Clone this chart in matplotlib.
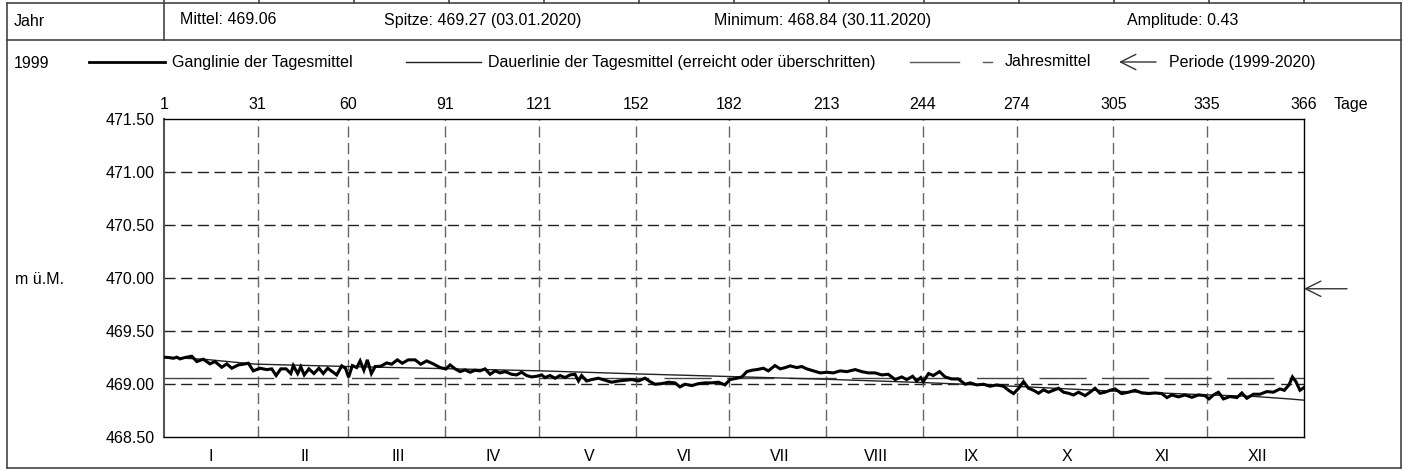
import matplotlib
matplotlib.use("Agg")
import matplotlib.pyplot as plt
from matplotlib.lines import Line2D

plt.rcParams['font.family'] = ['Liberation Sans', 'DejaVu Sans']
plt.rcParams['lines.scale_dashes'] = False

# ---------------- data ----------------
gang_days = [1, 2.4, 4.0, 5.1, 6.1, 7.7, 9.9, 11.5, 13.6, 15.7, 17.3, 19.5, 21.1, 22.7, 24.8, 26.4, 28.0,
             29.6, 31.7, 33.9, 35.5, 36.9, 38.4, 40.1, 41.6, 42.4, 43.8, 44.8, 45.9, 47.4, 49.0, 50.6,
             52.0, 53.4, 54.9, 56.3, 57.9, 59.1, 60.1, 61.3, 62.7, 63.8, 65.0, 66.1, 67.4, 68.6, 70.4,
             72.3, 73.9, 75.7, 77.3, 79.2, 81.4, 83.2, 85.1, 87.2, 89.4, 91.3,
             92.6, 94.2, 95.8, 97.4, 99.0, 100.6, 102.2, 103.8, 105.4, 107.0, 108.6, 110.2, 112.3, 113.9,
             115.5, 117.1, 118.7, 120.3, 121.9, 123.0, 124.6, 126.2, 127.8, 129.4, 131.0, 132.6, 133.7,
             134.7, 136.3, 137.9, 140.1, 142.2, 144.3, 146.5, 148.6, 150.7, 152.9, 155.0, 156.6, 158.2,
             160.4, 162.5, 164.6, 166.2, 167.8, 170.0, 172.1, 174.2, 176.4, 178.5, 180.6, 182.2,
             184.4, 186.0, 187.6, 189.2, 190.8, 192.9, 194.5, 196.6, 198.3, 199.9, 201.5, 203.6, 205.2,
             206.8, 208.9, 211.1, 213.2, 215.3, 217.5, 219.6, 222.3, 224.4, 226.5, 228.7, 230.8, 232.9,
             235.1, 237.2, 238.8, 240.7, 242.0, 243.3, 244.1, 245.8, 247.3, 249.3, 251.1, 253.2, 255.3,
             257.5, 259.1, 261.2, 263.4, 265.5, 267.6, 269.8, 271.4, 273.0, 274.6,
             276.2, 277.8, 279.4, 281.0, 282.6, 284.2, 285.8, 287.4, 289.0, 290.6, 292.2, 293.8, 295.9,
             297.5, 299.1, 300.7, 302.3, 303.9, 305.5, 307.6, 309.8, 311.9, 314.1, 316.2, 318.3, 320.5,
             322.1, 323.7, 325.8, 327.9, 330.1, 332.2, 334.3, 335.6, 337.0, 338.6, 340.2, 342.3, 344.5,
             346.1, 347.7, 349.8, 351.9, 354.1, 356.2, 358.3, 359.7, 361.2, 362.3, 363.4, 364.7, 366]
gang_vals = [469.255, 469.252, 469.245, 469.255, 469.239, 469.252, 469.264, 469.214, 469.236, 469.192,
             469.214, 469.160, 469.192, 469.151, 469.182, 469.189, 469.198, 469.126, 469.151, 469.138,
             469.145, 469.082, 469.145, 469.145, 469.101, 469.176, 469.101, 469.164, 469.088, 469.145,
             469.101, 469.151, 469.101, 469.151, 469.119, 469.088, 469.173, 469.151, 469.066, 469.176,
             469.157, 469.220, 469.132, 469.230, 469.101, 469.167, 469.170, 469.201, 469.189, 469.230,
             469.198, 469.230, 469.230, 469.189, 469.220, 469.192, 469.157, 469.145,
             469.182, 469.145, 469.119, 469.135, 469.113, 469.132, 469.126, 469.145, 469.094, 469.126,
             469.107, 469.119, 469.094, 469.088, 469.113, 469.082, 469.069, 469.075, 469.088, 469.063,
             469.082, 469.057, 469.082, 469.063, 469.088, 469.094, 469.031, 469.082, 469.031, 469.044,
             469.057, 469.038, 469.019, 469.031, 469.038, 469.044, 469.031, 469.057, 469.025, 469.000,
             469.006, 469.019, 469.013, 468.975, 469.000, 468.987, 469.006, 469.013, 469.013, 469.019,
             468.994, 469.044,
             469.057, 469.069, 469.119, 469.132, 469.138, 469.151, 469.126, 469.176, 469.145, 469.157,
             469.173, 469.157, 469.167, 469.145, 469.126, 469.107, 469.113, 469.107, 469.126, 469.119,
             469.138, 469.119, 469.107, 469.107, 469.088, 469.094, 469.044, 469.069, 469.044, 469.075,
             469.031, 469.063, 469.025, 469.101, 469.082, 469.119, 469.069, 469.050, 469.050, 469.000,
             469.013, 468.994, 469.000, 468.981, 468.994, 468.981, 468.943, 468.912, 468.960,
             469.025, 468.962, 468.943, 468.915, 468.947, 468.925, 468.943, 468.962, 468.925, 468.915,
             468.899, 468.925, 468.893, 468.925, 468.962, 468.915, 468.925, 468.943, 468.956, 468.912,
             468.925, 468.943, 468.918, 468.912, 468.918, 468.912, 468.874, 468.899, 468.881, 468.899,
             468.877, 468.899, 468.893, 468.862, 468.899, 468.925, 468.862, 468.884, 468.874, 468.918,
             468.868, 468.906, 468.906, 468.931, 468.925, 468.956, 468.943, 468.994, 469.069, 469.025,
             468.943, 468.969]

dauer_days = [1, 14, 30, 60, 91, 122, 153, 183, 213, 244, 274, 305, 335, 350, 355, 362, 366]
dauer_vals = [469.255, 469.235, 469.19, 469.167, 469.147, 469.126, 469.097, 469.072, 469.047,
              469.016, 468.98, 468.935, 468.90, 468.885, 468.875, 468.86, 468.85]

jahresmittel = 469.06
periode_mittel = 469.90

day_ticks = [1, 31, 60, 91, 121, 152, 182, 213, 244, 274, 305, 335, 366]
month_starts = [1, 32, 61, 92, 122, 153, 183, 214, 245, 275, 306, 336, 367]
months = ['I', 'II', 'III', 'IV', 'V', 'VI', 'VII', 'VIII', 'IX', 'X', 'XI', 'XII']
y_ticks = [468.50, 469.00, 469.50, 470.00, 470.50, 471.00, 471.50]

header_texts = ['Mittel: 469.06', 'Spitze: 469.27 (03.01.2020)',
                'Minimum: 468.84 (30.11.2020)', 'Amplitude: 0.43']

# ---------------- figure ----------------
W, H = 1407, 472
fig = plt.figure(figsize=(W / 100, H / 100), dpi=100)


def fx(x):
    return x / W


def fy(y):
    return 1 - y / H


def hline(x0, x1, y, **kw):
    fig.add_artist(Line2D([fx(x0), fx(x1)], [fy(y), fy(y)], transform=fig.transFigure, **kw))


def vline(x, y0, y1, **kw):
    fig.add_artist(Line2D([fx(x), fx(x)], [fy(y0), fy(y1)], transform=fig.transFigure, **kw))


FS = 11.5
border = dict(color='#444444', lw=1.2)

# outer frame and header rows
hline(7, 1401, 3, **border)
hline(7, 1401, 40, **border)
hline(7, 1401, 468, **border)
vline(7, 3, 468, **border)
vline(1401, 3, 468, **border)
vline(164, 3, 40, **border)
for k in range(13):
    vline(164 + k * 95, 0, 3, **border)

fig.text(fx(14), fy(21), 'Jahr', fontsize=FS, va='center', ha='left')
for xpos, t in zip([180, 384, 714, 1127], header_texts):
    fig.text(fx(xpos), fy(20), t, fontsize=FS, va='center', ha='left')

# legend row
ly = 62
fig.text(fx(14), fy(ly + 1), '1999', fontsize=FS, va='center', ha='left')
hline(89, 165, ly, color='black', lw=2.0)
fig.text(fx(172), fy(ly), 'Ganglinie der Tagesmittel', fontsize=FS, va='center', ha='left')
hline(406, 481, ly, color='#222222', lw=1.0)
fig.text(fx(488), fy(ly), 'Dauerlinie der Tagesmittel (erreicht oder überschritten)', fontsize=FS,
         va='center', ha='left')
hline(910, 959, ly, color='#555555', lw=1.0)
hline(983, 992, ly, color='#555555', lw=1.0)
fig.text(fx(1005), fy(ly), 'Jahresmittel', fontsize=FS, va='center', ha='left')
fig.add_artist(matplotlib.patches.FancyArrowPatch(
    (fx(1156), fy(ly)), (fx(1119), fy(ly)), transform=fig.transFigure,
    arrowstyle='->,head_length=1.1,head_width=0.55', mutation_scale=10, lw=1.0, color='#333333',
    shrinkA=0, shrinkB=0))
fig.text(fx(1169), fy(ly), 'Periode (1999-2020)', fontsize=FS, va='center', ha='left')

fig.text(fx(15), fy(280), 'm ü.M.', fontsize=FS, va='center', ha='left')

# axes
ax_l, ax_r, ax_t, ax_b = 164, 1304, 119, 437.3
ax = fig.add_axes([fx(ax_l), fy(ax_b), (ax_r - ax_l) / W, (ax_b - ax_t) / H])
ax.set_xlim(1, 366)
ax.set_ylim(468.5, 471.5)

for yv in y_ticks[1:-1]:
    ax.axhline(yv, color='#222222', lw=1.0, dashes=(8, 4), zorder=1)
for d in day_ticks[1:-1]:
    ax.axvline(d, color='#666666', lw=1.0, dashes=(8, 4), zorder=1)

ax.axhline(jahresmittel, color='#444444', lw=1.0, dashes=(34, 11), zorder=2)
ax.plot(dauer_days, dauer_vals, color='#222222', lw=1.0, zorder=3)
ax.plot(gang_days, gang_vals, color='black', lw=2.2, zorder=4, solid_joinstyle='miter')

ax.set_yticks(y_ticks)
ax.set_yticklabels([f'{v:.2f}' for v in y_ticks], fontsize=FS)
ax.set_xticks(day_ticks)
ax.set_xticklabels([str(d) for d in day_ticks], fontsize=FS)
ax.tick_params(axis='x', top=True, labeltop=True, bottom=False, labelbottom=False, length=0, pad=5)
ax.tick_params(axis='y', length=0, pad=7)

for i, m in enumerate(months):
    mid = (month_starts[i] + month_starts[i + 1] - 1) / 2
    ax.text(mid, -0.059, m, transform=ax.get_xaxis_transform(), fontsize=FS, ha='center', va='center')

fig.text(fx(1334), fy(104), 'Tage', fontsize=FS, ha='left', va='center')

for s in ['top', 'right', 'bottom']:
    ax.spines[s].set_color('black')
    ax.spines[s].set_linewidth(1.0)
ax.spines['left'].set_color('#555555')
ax.spines['left'].set_linewidth(1.5)

ax.annotate('', xy=(1.0, periode_mittel), xytext=(1.0377, periode_mittel),
            xycoords=('axes fraction', 'data'), textcoords=('axes fraction', 'data'),
            arrowprops=dict(arrowstyle='->,head_length=1.1,head_width=0.55', lw=1.0, color='#333333',
                            shrinkA=0, shrinkB=0, mutation_scale=10),
            annotation_clip=False)

fig.savefig('out.png', dpi=100)
